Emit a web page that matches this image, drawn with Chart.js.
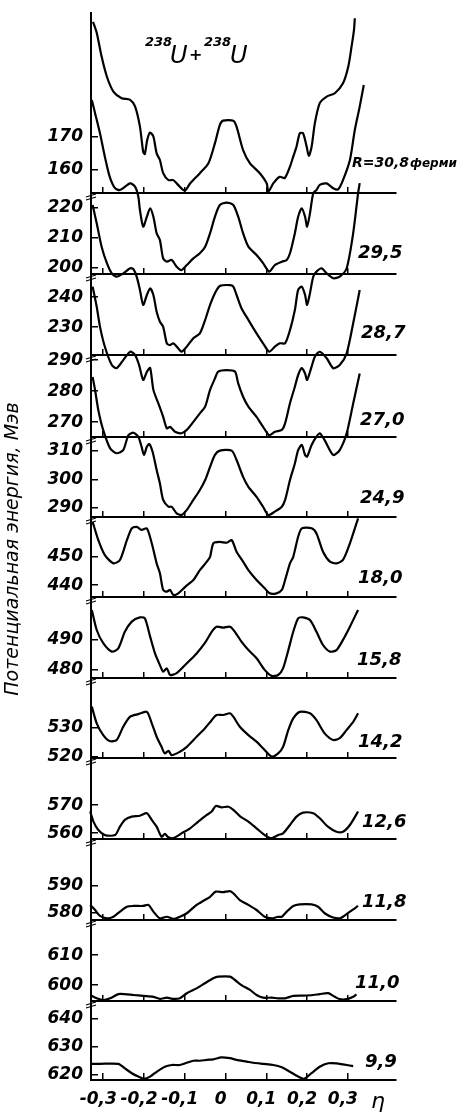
<!DOCTYPE html>
<html><head><meta charset="utf-8">
<script src="https://cdn.jsdelivr.net/npm/chart.js@4/dist/chart.umd.min.js"></script>
<style>html,body{margin:0;padding:0;background:#fff}canvas{display:block}</style>
</head><body>
<canvas id="c" width="465" height="1114" style="width:465px;height:1114px"></canvas>
<script>
// ---- panels (top to bottom) ----
const panelR = ['30,8','29,5','28,7','27,0','24,9','18,0','15,8','14,2','12,6','11,8','11,0','9,9'];
const panelMin = [153.0,198.0,220.7,265.2,286.8,435.8,477.3,519.5,557.9,577.4,594.7,618.2];
const panelMax = [207.5,225.0,247.7,291.65,314.9,464.1,504.3,547.4,586.8,607.4,621.7,646.1];
const panelTicks = [[160,170],[200,210,220],[230,240],[270,280,290],[290,300,310],[440,450],[480,490],[520,530],[560,570],[580,590],[600,610],[620,630,640]];
const panelWeights = [180,81,81,82,80,80,81,80,81,81,81,79];
const etaTicks = [-0.3,-0.2,-0.1,0,0.1,0.2,0.3];

// ---- curves: eta and potential energy (MeV) ----
const eta308 = [-0.325,-0.316,-0.304,-0.291,-0.275,-0.255,-0.234,-0.222,-0.210,-0.202,-0.198,-0.192,-0.185,-0.177,-0.169,-0.161,-0.153,-0.140,-0.128,-0.116,-0.100,-0.087,-0.063,-0.042,-0.026,-0.014,-0.006,0.019,0.027,0.043,0.060,0.084,0.101,0.105,0.117,0.133,0.145,0.158,0.166,0.174,0.182,0.190,0.199,0.204,0.211,0.219,0.231,0.248,0.268,0.288,0.301,0.309,0.315,0.317];
const E308 = [204.8,201.5,194.3,188.2,183.7,181.7,181.2,179.2,173.1,165.5,164.8,169.1,171.3,170.1,165.0,163.0,159.0,156.9,156.9,155.4,153.7,155.9,159.0,162.0,168.1,173.6,174.9,174.9,173.1,166.0,162.0,159.0,155.9,153.4,155.9,157.9,157.5,161.0,164.0,167.0,171.1,171.1,167.0,164.2,167.0,174.1,180.2,182.2,183.2,186.2,191.3,197.3,202.4,205.9];

const eta295 = [-0.328,-0.320,-0.308,-0.296,-0.284,-0.271,-0.259,-0.234,-0.222,-0.214,-0.210,-0.202,-0.193,-0.185,-0.177,-0.169,-0.161,-0.153,-0.144,-0.132,-0.120,-0.108,-0.095,-0.079,-0.063,-0.050,-0.038,-0.026,-0.014,0.003,0.019,0.031,0.043,0.056,0.076,0.092,0.107,0.121,0.138,0.150,0.158,0.170,0.178,0.187,0.195,0.200,0.207,0.215,0.223,0.231,0.248,0.264,0.276,0.288,0.305,0.317,0.329,0.339];
const E295 = [256.0,251.6,244.9,237.1,230.4,226.6,226.0,228.2,227.1,223.8,219.3,213.8,217.1,219.9,217.1,211.6,209.3,203.2,202.1,202.7,200.4,199.3,201.0,203.2,204.9,207.1,211.6,217.1,221.0,221.8,221.0,217.1,211.6,207.1,204.3,201.6,198.8,201.0,202.1,202.7,204.9,211.6,217.1,219.9,217.1,213.8,218.2,224.9,226.0,227.7,228.2,226.6,226.2,229.3,236.0,246.0,253.8,261.0];

const eta287 = [-0.326,-0.316,-0.304,-0.291,-0.279,-0.267,-0.251,-0.234,-0.226,-0.218,-0.210,-0.202,-0.193,-0.185,-0.177,-0.169,-0.161,-0.153,-0.144,-0.136,-0.128,-0.116,-0.108,-0.095,-0.079,-0.063,-0.050,-0.038,-0.026,-0.014,0.011,0.019,0.027,0.039,0.056,0.076,0.092,0.107,0.121,0.133,0.146,0.158,0.170,0.178,0.187,0.195,0.200,0.207,0.215,0.223,0.236,0.248,0.264,0.280,0.297,0.313,0.325,0.329];
const E287 = [270.7,264.6,256.8,251.3,247.9,246.8,247.9,249.6,249.3,246.8,242.4,237.4,240.7,242.9,240.7,235.1,231.8,230.1,224.6,224.0,224.6,222.9,221.8,223.5,226.3,227.9,232.4,237.4,241.3,243.7,244.0,243.5,240.7,236.3,232.4,227.9,224.6,221.8,223.5,224.6,224.6,229.0,235.7,242.4,243.5,240.7,237.4,241.3,246.8,248.5,249.6,247.9,246.3,246.8,249.6,261.3,274.6,278.0];

const eta270 = [-0.326,-0.316,-0.308,-0.296,-0.279,-0.267,-0.251,-0.234,-0.222,-0.212,-0.202,-0.193,-0.185,-0.177,-0.165,-0.153,-0.144,-0.136,-0.124,-0.108,-0.095,-0.079,-0.063,-0.050,-0.038,-0.026,-0.018,0.003,0.023,0.031,0.043,0.056,0.076,0.092,0.107,0.121,0.138,0.146,0.158,0.170,0.178,0.187,0.195,0.200,0.211,0.219,0.231,0.248,0.264,0.280,0.297,0.313,0.329];
const E270 = [313.7,307.2,300.8,294.3,288.4,287.4,290.0,292.7,291.7,288.4,283.6,286.2,287.5,280.4,276.1,271.7,268.0,268.5,266.9,266.4,267.5,270.1,272.8,275.0,280.4,284.1,286.3,286.8,286.3,282.5,278.2,275.0,271.7,268.5,265.8,266.9,267.5,269.6,276.1,281.4,285.2,287.4,285.7,283.6,287.9,291.1,292.7,290.6,287.4,288.4,292.2,301.9,312.6];

const eta249 = [-0.326,-0.320,-0.312,-0.300,-0.283,-0.267,-0.251,-0.238,-0.226,-0.214,-0.206,-0.200,-0.193,-0.187,-0.179,-0.169,-0.161,-0.153,-0.140,-0.132,-0.120,-0.108,-0.095,-0.079,-0.063,-0.050,-0.038,-0.026,-0.014,0.015,0.027,0.043,0.056,0.076,0.092,0.105,0.121,0.138,0.146,0.158,0.170,0.178,0.187,0.195,0.200,0.211,0.223,0.231,0.243,0.264,0.280,0.297,0.313,0.329];
const E249 = [336.0,331.4,324.3,317.3,310.9,309.2,310.3,315.6,316.4,315.0,311.5,308.6,311.5,312.4,309.7,303.3,298.6,292.8,290.4,290.4,288.1,287.5,289.3,292.8,296.3,299.8,304.4,308.6,310.1,310.1,306.8,300.9,297.4,293.9,290.4,287.5,288.7,290.4,292.8,299.8,305.6,310.3,312.1,308.6,308.0,312.1,315.0,316.2,313.8,308.6,310.3,316.2,326.7,337.2];

const eta180 = [-0.326,-0.312,-0.296,-0.275,-0.259,-0.242,-0.230,-0.218,-0.206,-0.193,-0.181,-0.169,-0.161,-0.153,-0.144,-0.136,-0.128,-0.116,-0.099,-0.079,-0.063,-0.046,-0.038,-0.030,-0.014,0.003,0.015,0.027,0.043,0.056,0.076,0.096,0.108,0.125,0.138,0.146,0.158,0.166,0.178,0.187,0.211,0.223,0.239,0.256,0.272,0.288,0.305,0.325];
const E180 = [462.4,455.9,450.6,447.7,448.9,455.9,460.1,460.6,459.5,460.1,454.8,447.7,444.2,438.3,437.7,438.3,436.5,437.1,439.4,441.8,445.3,448.3,450.0,454.8,455.3,455.0,455.9,451.8,448.3,445.3,441.8,438.9,437.1,437.1,438.3,441.8,447.7,450.0,457.1,460.1,460.1,458.3,451.8,448.3,447.7,448.9,454.8,463.6];

const eta158 = [-0.328,-0.316,-0.300,-0.279,-0.263,-0.247,-0.230,-0.210,-0.198,-0.185,-0.173,-0.161,-0.153,-0.144,-0.136,-0.120,-0.095,-0.071,-0.051,-0.034,-0.022,-0.006,0.011,0.023,0.039,0.056,0.076,0.096,0.113,0.129,0.141,0.154,0.166,0.178,0.190,0.207,0.223,0.239,0.256,0.272,0.288,0.305,0.325];
const E158 = [500.0,493.3,488.9,486.1,487.2,492.7,496.1,497.5,497.2,491.1,485.5,481.6,479.4,480.5,478.3,478.9,482.2,485.5,488.9,492.7,494.4,494.1,494.4,492.7,489.4,486.6,483.9,480.0,478.0,478.3,480.5,486.6,492.7,497.2,497.5,496.6,492.7,488.3,486.1,486.6,490.0,494.4,500.0];

const eta142 = [-0.328,-0.316,-0.300,-0.284,-0.267,-0.251,-0.234,-0.214,-0.193,-0.181,-0.169,-0.157,-0.149,-0.140,-0.132,-0.112,-0.095,-0.071,-0.051,-0.034,-0.022,-0.006,0.011,0.019,0.035,0.056,0.076,0.092,0.113,0.129,0.141,0.154,0.166,0.182,0.207,0.223,0.243,0.264,0.280,0.297,0.313,0.325];
const E142 = [537.4,531.6,527.5,525.4,525.8,530.4,533.9,534.8,535.6,531.6,526.9,523.4,521.1,522.0,520.5,521.7,523.4,526.9,529.8,532.7,534.5,534.5,535.1,533.9,530.4,527.5,525.2,522.9,520.0,521.1,523.4,529.3,533.3,535.6,535.1,532.7,528.1,525.8,526.4,529.3,532.1,535.1];

const eta126 = [-0.332,-0.324,-0.312,-0.296,-0.271,-0.259,-0.247,-0.230,-0.210,-0.193,-0.181,-0.169,-0.157,-0.149,-0.140,-0.128,-0.108,-0.087,-0.067,-0.046,-0.034,-0.024,-0.010,0.007,0.019,0.035,0.056,0.076,0.096,0.113,0.129,0.141,0.158,0.174,0.190,0.215,0.231,0.251,0.272,0.288,0.305,0.325];
const E126 = [567.7,564.1,561.1,559.3,559.3,562.3,564.7,565.9,566.2,567.1,564.7,562.3,558.7,559.7,558.5,558.2,559.9,561.7,564.1,566.5,567.7,569.7,569.2,569.4,568.3,566.1,564.1,561.7,559.3,558.2,559.3,559.9,562.9,565.9,567.3,567.1,565.3,562.3,560.5,560.5,562.9,567.7];

const eta118 = [-0.332,-0.320,-0.308,-0.291,-0.275,-0.259,-0.242,-0.226,-0.202,-0.189,-0.177,-0.161,-0.144,-0.128,-0.112,-0.095,-0.071,-0.051,-0.038,-0.024,-0.006,0.011,0.019,0.035,0.056,0.076,0.096,0.113,0.129,0.138,0.150,0.166,0.182,0.211,0.227,0.243,0.264,0.280,0.288,0.305,0.325];
const E118 = [583.0,581.1,578.9,578.0,578.6,580.5,582.3,582.6,582.6,583.0,580.5,578.0,578.6,577.8,578.6,579.9,583.0,584.8,586.0,587.9,587.7,588.1,587.3,584.8,583.0,581.1,578.6,578.0,578.6,578.6,580.5,582.6,583.2,583.2,582.3,579.9,578.3,578.0,578.6,580.5,582.6];

const eta110 = [-0.332,-0.316,-0.300,-0.283,-0.263,-0.247,-0.226,-0.202,-0.177,-0.161,-0.144,-0.128,-0.112,-0.095,-0.071,-0.051,-0.030,-0.018,0.011,0.023,0.039,0.060,0.076,0.092,0.113,0.129,0.146,0.166,0.190,0.215,0.231,0.252,0.268,0.280,0.297,0.313,0.321];
const E110 = [596.7,595.6,595.0,595.6,597.0,597.0,596.7,596.4,596.1,595.4,595.8,595.4,595.6,597.3,598.9,600.6,602.3,602.8,602.8,601.7,600.0,598.4,596.7,595.8,595.8,595.6,595.6,596.4,596.5,596.7,597.0,597.3,596.1,595.3,595.3,596.1,596.9];

const eta99 = [-0.332,-0.308,-0.263,-0.247,-0.230,-0.214,-0.200,-0.185,-0.169,-0.149,-0.132,-0.112,-0.095,-0.079,-0.063,-0.046,-0.030,-0.010,0.011,0.027,0.052,0.068,0.092,0.117,0.138,0.158,0.178,0.192,0.211,0.231,0.252,0.272,0.288,0.313];
const E99 = [623.9,623.9,623.9,622.3,620.6,619.4,618.6,619.4,621.1,622.9,623.5,623.5,624.3,625.0,625.0,625.3,625.5,626.2,625.9,625.3,624.7,624.3,623.9,623.5,622.7,621.1,619.4,618.6,620.6,622.9,624.1,624.1,623.7,623.1];

const curveEta = [eta308,eta295,eta287,eta270,eta249,eta180,eta158,eta142,eta126,eta118,eta110,eta99];
const curveE = [E308,E295,E287,E270,E249,E180,E158,E142,E126,E118,E110,E99];

// ---- styling ----
const FONT = "'DejaVu Sans', 'Liberation Sans', sans-serif";
const tickFont = {family: FONT, size: 17, style: 'italic', weight: 'bold'};
const X_MIN = -0.33, X_MAX = 0.418;
const labelDX = [-44,-38,-35,-36,-36,-38,-39,-38,-34,-34,-41,-31];
const labelDY = [30,21,22,17,19,19,18,16,17,18,18,18];

function fmtEta(v) {
  if (Math.abs(v) < 1e-9) return '0';
  return (v < 0 ? '-' : '') + Math.abs(v).toFixed(1).replace('.', ',');
}
function setEtaTicks(ax) { ax.ticks = etaTicks.map(v => ({value: v})); }

const scales = {
  x: {
    type: 'linear', axis: 'x', position: 'bottom', min: X_MIN, max: X_MAX,
    afterBuildTicks: setEtaTicks,
    afterFit: ax => { ax.height = 34; ax.paddingLeft = 0; ax.paddingRight = 0; },
    grid: {drawOnChartArea: false, color: '#000', lineWidth: 1.5, tickLength: -7},
    border: {color: '#000', width: 2},
    ticks: {color: '#000', font: tickFont, padding: 16, labelOffset: -5, maxRotation: 0, minRotation: 0, autoSkip: false,
            callback: v => fmtEta(v)}
  }
};
panelR.forEach((r, i) => {
  scales['y' + (i + 1)] = {
    type: 'linear', axis: 'y', position: 'left', stack: 'panels', stackWeight: panelWeights[i], weight: 12 - i,
    min: panelMin[i], max: panelMax[i],
    afterBuildTicks: ax => { ax.ticks = panelTicks[i].map(v => ({value: v})); },
    afterFit: ax => { ax.width = 91; ax.paddingTop = 0; ax.paddingBottom = 0; },
    grid: {drawOnChartArea: false, color: '#000', lineWidth: 1.5, tickLength: -7},
    border: {color: '#000', width: 2},
    ticks: {color: '#000', font: tickFont, padding: 15, autoSkip: false, callback: v => String(v)}
  };
  if (i < 11) {
    scales['xb' + (i + 1)] = {
      type: 'linear', axis: 'x', position: {['y' + (i + 1)]: panelMin[i]}, min: X_MIN, max: X_MAX,
      afterBuildTicks: setEtaTicks,
      grid: {drawOnChartArea: false, color: '#000', lineWidth: 1.5, tickLength: -7},
      border: {color: '#000', width: 2},
      ticks: {display: false}
    };
  }
});

const datasets = curveEta.map((eta, i) => ({
  label: 'R=' + panelR[i],
  data: eta.map((x, k) => ({x: x, y: curveE[i][k]})),
  xAxisID: 'x', yAxisID: 'y' + (i + 1),
  borderColor: '#000', borderWidth: 2.2, pointRadius: 0, tension: 0.25, fill: false, clip: false
}));

const textPlugin = {
  id: 'texts',
  afterDraw(chart) {
    const {ctx, chartArea} = chart;
    ctx.save();
    ctx.fillStyle = '#000'; ctx.strokeStyle = '#000';
    // axis break marks at panel tops
    ctx.lineWidth = 1.3;
    for (let i = 1; i < 12; i++) {
      const ax = chart.scales['y' + (i + 1)];
      const x = chartArea.left, y = ax.top + 3;
      ctx.beginPath();
      ctx.moveTo(x - 5, y + 1); ctx.lineTo(x + 5, y - 2);
      ctx.moveTo(x - 5, y + 4); ctx.lineTo(x + 5, y + 1);
      ctx.stroke();
    }
    // panel labels
    ctx.textBaseline = 'middle'; ctx.textAlign = 'left';
    panelR.forEach((r, i) => {
      const ax = chart.scales['y' + (i + 1)];
      const x = chartArea.right + labelDX[i];
      const y = ax.bottom - labelDY[i];
      if (i === 0) {
        ctx.font = 'italic bold 14px ' + FONT;
        const t = 'R=' + r;
        ctx.fillText(t, x, y);
        const w = ctx.measureText(t).width;
        ctx.font = 'italic bold 12px ' + FONT;
        ctx.fillText('ферми', x + w + 1, y + 1);
      } else {
        ctx.font = 'italic bold 18px ' + FONT;
        ctx.fillText(r, x, y);
      }
    });
    // reaction title
    ctx.textBaseline = 'alphabetic';
    ctx.font = 'italic bold 13px ' + FONT;
    ctx.fillText('238', 145, 46);
    ctx.font = 'italic 24px ' + FONT;
    ctx.fillText('U', 170, 63);
    ctx.font = 'italic bold 16px ' + FONT;
    ctx.fillText('+', 189, 60);
    ctx.font = 'italic bold 13px ' + FONT;
    ctx.fillText('238', 204, 46);
    ctx.font = 'italic 24px ' + FONT;
    ctx.fillText('U', 230, 63);
    // eta symbol
    ctx.font = 'italic 22px ' + FONT;
    ctx.fillText('η', 371, 1108);
    // y title
    ctx.translate(13, 549);
    ctx.rotate(-Math.PI / 2);
    ctx.textAlign = 'center'; ctx.textBaseline = 'middle';
    ctx.font = 'italic 19px ' + FONT;
    ctx.fillText('Потенциальная энергия, Мэв', 0, 0);
    ctx.restore();
  }
};

new Chart(document.getElementById('c'), {
  type: 'line',
  data: {datasets},
  options: {
    responsive: false, animation: false, devicePixelRatio: 1,
    layout: {padding: {top: 13, bottom: 0, left: 0, right: 69}},
    plugins: {legend: {display: false}, tooltip: {enabled: false}, title: {display: false}},
    scales: scales
  },
  plugins: [textPlugin]
});
</script>
</body></html>
